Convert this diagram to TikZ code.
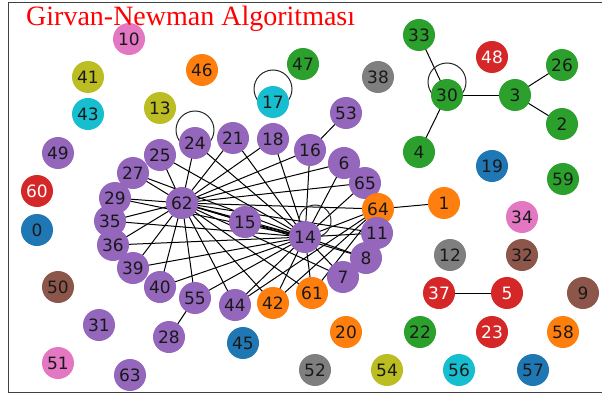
\documentclass[tikz,border=0pt]{standalone}
\usepackage{fontspec}
\setmainfont{DejaVu Sans}
\newfontfamily\titlefont{Liberation Serif}
\usetikzlibrary{backgrounds}
\definecolor{tblue}{HTML}{1F77B4}
\definecolor{torange}{HTML}{FF7F0E}
\definecolor{tgreen}{HTML}{2CA02C}
\definecolor{tred}{HTML}{D62728}
\definecolor{tpurple}{HTML}{9467BD}
\definecolor{tbrown}{HTML}{8C564B}
\definecolor{tpink}{HTML}{E377C2}
\definecolor{tgray}{HTML}{7F7F7F}
\definecolor{tolive}{HTML}{BCBD22}
\definecolor{tcyan}{HTML}{17BECF}
\tikzset{
  nd/.style={circle, minimum size=32pt, inner sep=0pt, text=black!90, font=\fontsize{17}{17}\selectfont},
  pu/.style={nd, fill=tpurple},
  bl/.style={nd, fill=tblue},
  org/.style={nd, fill=torange},
  gr/.style={nd, fill=tgreen},
  rd/.style={nd, fill=tred, text=white},
  br/.style={nd, fill=tbrown},
  pk/.style={nd, fill=tpink},
  gy/.style={nd, fill=tgray},
  ol/.style={nd, fill=tolive},
  cy/.style={nd, fill=tcyan},
  edge/.style={draw=black, line width=1pt},
  selfloop/.style={draw=black!85, line width=1pt},
  frame/.style={draw=black!75, line width=1.2pt},
  title/.style={text=red, font=\titlefont\fontsize{28}{28}\selectfont, inner sep=0pt}
}
\begin{document}
\begin{tikzpicture}[x=1pt,y=-1pt]
\useasboundingbox (0,0) rectangle (602,396);
\draw[frame] (8.5,2.5) rectangle (612,392.5);
% nodes
\node[pk] (n10) at (129,39) {10};
\node[ol] (n41) at (88,77) {41};
\node[org] (n46) at (202,70) {46};
\node[gr] (n47) at (303,64) {47};
\node[gy] (n38) at (378,77) {38};
\node[gr] (n33) at (419,35) {33};
\node[rd] (n48) at (492,57) {48};
\node[gr] (n26) at (562,65) {26};
\node[gr] (n30) at (447,95) {30};
\node[gr] (n3) at (515,95) {3};
\node[gr] (n2) at (562,124) {2};
\node[cy] (n43) at (88,114) {43};
\node[ol] (n13) at (160,108) {13};
\node[cy] (n17) at (273,102) {17};
\node[pu] (n53) at (346,113) {53};
\node[gr] (n4) at (419,152) {4};
\node[bl] (n19) at (492,166) {19};
\node[gr] (n59) at (563,179) {59};
\node[pu] (n49) at (58,153) {49};
\node[pu] (n24) at (195,143) {24};
\node[pu] (n21) at (233,138) {21};
\node[pu] (n18) at (273,139) {18};
\node[pu] (n16) at (310,150) {16};
\node[pu] (n6) at (344,163) {6};
\node[pu] (n65) at (365,183) {65};
\node[pu] (n25) at (160,155) {25};
\node[pu] (n27) at (133,173) {27};
\node[rd] (n60) at (37,191) {60};
\node[pu] (n29) at (115,198) {29};
\node[pu] (n62) at (182,203) {62};
\node[pu] (n15) at (245,222) {15};
\node[org] (n64) at (378,209) {64};
\node[org] (n1) at (444,203) {1};
\node[pk] (n34) at (522,217) {34};
\node[pu] (n35) at (110,221) {35};
\node[bl] (n0) at (37,230) {0};
\node[pu] (n14) at (305,237) {14};
\node[pu] (n11) at (377,233) {11};
\node[pu] (n36) at (113,245) {36};
\node[gy] (n12) at (450,255) {12};
\node[br] (n32) at (522,255) {32};
\node[pu] (n8) at (366,258) {8};
\node[pu] (n39) at (133,268) {39};
\node[pu] (n7) at (343,277) {7};
\node[br] (n50) at (58,287) {50};
\node[pu] (n40) at (160,287) {40};
\node[pu] (n55) at (195,298) {55};
\node[pu] (n44) at (235,305) {44};
\node[org] (n42) at (273,303) {42};
\node[org] (n61) at (312,293) {61};
\node[rd] (n37) at (439,293) {37};
\node[rd] (n5) at (507,293) {5};
\node[br] (n9) at (583,293) {9};
\node[pu] (n31) at (99,325) {31};
\node[pu] (n28) at (169,337) {28};
\node[org] (n20) at (346,332) {20};
\node[gr] (n22) at (420,332) {22};
\node[rd] (n23) at (492,332) {23};
\node[org] (n58) at (563,332) {58};
\node[bl] (n45) at (243,343) {45};
\node[pk] (n51) at (58,363) {51};
\node[pu] (n63) at (130,375) {63};
\node[gy] (n52) at (315,370) {52};
\node[ol] (n54) at (387,370) {54};
\node[cy] (n56) at (459,370) {56};
\node[bl] (n57) at (533,370) {57};
% title
\node[title, anchor=base west] (title) at (26,26) {Girvan-Newman Algoritması};
\begin{pgfonlayer}{background}
\foreach \x in {24,25,27,29,35,36,39,40,55,44,42,61,7,8,11,64,65,6,16,18,21,15,14}
  \draw[edge] (n62.center) -- (n\x.center);
\foreach \x in {24,25,27,29,35,36,39,40,55,44,42,61,7,8,11,64,65,6,16,18,21,15}
  \draw[edge] (n14.center) -- (n\x.center);
\foreach \x in {42,61,44,1}
  \draw[edge] (n64.center) -- (n\x.center);
\draw[edge] (n33.center) -- (n30.center);
\draw[edge] (n30.center) -- (n3.center);
\draw[edge] (n3.center) -- (n26.center);
\draw[edge] (n3.center) -- (n2.center);
\draw[edge] (n30.center) -- (n4.center);
\draw[edge] (n37.center) -- (n5.center);
\draw[edge] (n53.center) -- (n16.center);
\draw[edge] (n55.center) -- (n28.center);
% self loops
\draw[selfloop] ([yshift=13pt]n24.center) circle[radius=19pt];
\draw[selfloop] ([yshift=13pt]n17.center) circle[radius=19pt];
\draw[selfloop] ([yshift=13pt]n30.center) circle[radius=19pt];
\draw[selfloop] ([xshift=10pt,yshift=16pt]n14.center) circle[radius=16pt];
\end{pgfonlayer}
\end{tikzpicture}
\end{document}
